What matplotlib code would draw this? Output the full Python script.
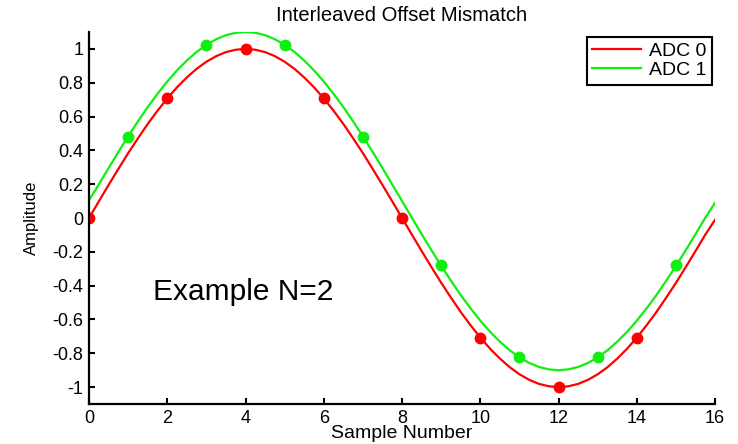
import matplotlib.pyplot as plt

# sample points (ADC 0 takes even samples, ADC 1 takes odd samples)
n0 = [0, 2, 4, 6, 8, 10, 12, 14]
adc0 = [0.0, 0.71, 1.0, 0.71, 0.0, -0.71, -1.0, -0.71]
n1 = [1, 3, 5, 7, 9, 11, 13, 15]
adc1 = [0.48, 1.02, 1.02, 0.48, -0.28, -0.82, -0.82, -0.28]

# continuous waveforms every quarter sample
wave0 = [0.0, 0.098, 0.195, 0.29, 0.383, 0.471, 0.556, 0.634,
         0.707, 0.773, 0.831, 0.882, 0.924, 0.957, 0.981, 0.995,
         1.0, 0.995, 0.981, 0.957, 0.924, 0.882, 0.831, 0.773,
         0.707, 0.634, 0.556, 0.471, 0.383, 0.29, 0.195, 0.098,
         0.0, -0.098, -0.195, -0.29, -0.383, -0.471, -0.556, -0.634,
         -0.707, -0.773, -0.831, -0.882, -0.924, -0.957, -0.981, -0.995,
         -1.0, -0.995, -0.981, -0.957, -0.924, -0.882, -0.831, -0.773,
         -0.707, -0.634, -0.556, -0.471, -0.383, -0.29, -0.195, -0.098,
         -0.01]
wave1 = [0.105, 0.198, 0.295, 0.39, 0.483, 0.571, 0.656, 0.734,
         0.807, 0.873, 0.931, 0.982, 1.024, 1.057, 1.081, 1.095,
         1.1, 1.095, 1.081, 1.057, 1.024, 0.982, 0.931, 0.873,
         0.807, 0.734, 0.656, 0.571, 0.483, 0.39, 0.295, 0.198,
         0.1, 0.002, -0.095, -0.19, -0.283, -0.371, -0.456, -0.534,
         -0.607, -0.673, -0.731, -0.782, -0.824, -0.857, -0.881, -0.895,
         -0.9, -0.895, -0.881, -0.857, -0.824, -0.782, -0.731, -0.673,
         -0.607, -0.534, -0.456, -0.371, -0.283, -0.19, -0.095, 0.002,
         0.09]
t = [0.25 * i for i in range(len(wave0))]

xticks = [0, 2, 4, 6, 8, 10, 12, 14, 16]
yticks = [1, 0.8, 0.6, 0.4, 0.2, 0, -0.2, -0.4, -0.6, -0.8, -1]
ylabels = ['1', '0.8', '0.6', '0.4', '0.2', '0', '-0.2', '-0.4', '-0.6', '-0.8', '-1']

red = '#ff0000'
green = '#11ee11'

plt.rcParams['font.family'] = ['Liberation Sans', 'DejaVu Sans']

fig = plt.figure(figsize=(7.38, 4.44), dpi=100)
ax = fig.add_axes([0.1206, 0.090, 0.8484, 0.838])

ax.plot(t, wave0, color=red, lw=1.6, label='ADC 0')
ax.plot(t, wave1, color=green, lw=1.6, label='ADC 1')
ax.plot(n0, adc0, 'o', color=red, ms=7.5)
ax.plot(n1, adc1, 'o', color=green, ms=7.5)

ax.set_xlim(0, 16)
ax.set_ylim(-1.1, 1.1)
ax.set_xticks(xticks)
ax.set_yticks(yticks)
ax.set_yticklabels(ylabels)
ax.tick_params(direction='in', length=4, width=1.5, labelsize=13, pad=4)
for s in ['top', 'right']:
    ax.spines[s].set_visible(False)
for s in ['left', 'bottom']:
    ax.spines[s].set_linewidth(1.6)

ax.set_title('Interleaved Offset Mismatch', fontsize=14.5, pad=8)
ax.set_xlabel('Sample Number', fontsize=14, labelpad=-1)
ax.set_ylabel('Amplitude', fontsize=12, labelpad=10)
ax.text(1.64, -0.44, 'Example N=2', fontsize=21.5, va='center')

leg = ax.legend(loc='upper right', bbox_to_anchor=(0.995, 0.987), borderaxespad=0,
                fontsize=14, handlelength=2.5, handletextpad=0.4, borderpad=0.3,
                labelspacing=0.05, fancybox=False, framealpha=1)
leg.get_frame().set_edgecolor('black')
leg.get_frame().set_linewidth(1.5)

fig.savefig('out.png', dpi=100)
